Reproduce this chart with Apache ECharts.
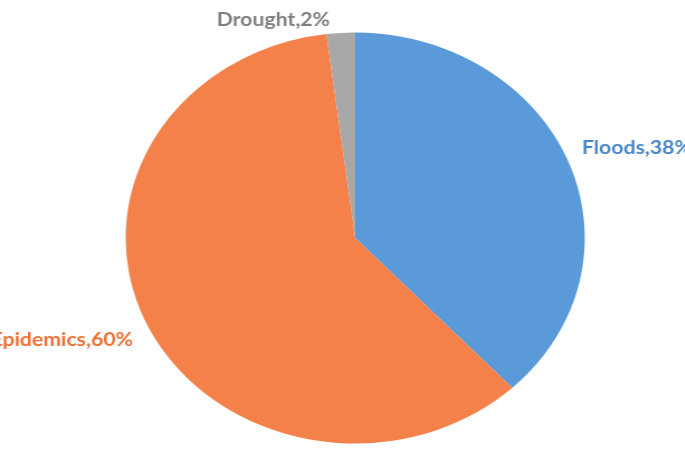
<!DOCTYPE html>
<html>
<head>
<meta charset="utf-8">
<script src="https://cdn.jsdelivr.net/npm/echarts@6/dist/echarts.min.js"></script>
<style>
  html, body { margin: 0; padding: 0; background: #ffffff; overflow: hidden; }
  #wrap { width: 685px; height: 463px; overflow: hidden; position: relative; }
  #chart { width: 613px; height: 463px; transform: scaleX(1.117); transform-origin: 0 0; }
</style>
</head>
<body>
<div id="wrap"><div id="chart"></div></div>
<script>
const categories = ['Floods', 'Epidemics', 'Drought'];
const shares = [38, 60, 2];

const sliceColors = ['#5a9ad9', '#f5814a', '#a8a8a8'];
const labelColors = ['#4a87c9', '#ee7135', '#808080'];
// label anchor positions (chart coordinates, before horizontal stretch)
const labelPos = [
  { x: 521, y: 148, align: 'left' },
  { x: 119, y: 340, align: 'right' },
  { x: 194, y: 20, align: 'left' }
];

const chart = echarts.init(document.getElementById('chart'), null, { renderer: 'canvas' });
chart.setOption({
  backgroundColor: '#ffffff',
  animation: false,
  series: [{
    type: 'pie',
    center: [318, 238],
    radius: 205.5,
    startAngle: 90,
    clockwise: true,
    avoidLabelOverlap: false,
    data: categories.map((c, i) => ({
      name: c,
      value: shares[i],
      itemStyle: { color: sliceColors[i] },
      label: { color: labelColors[i] }
    })),
    itemStyle: { borderWidth: 0 },
    label: {
      show: true,
      position: 'outside',
      formatter: p => p.name + ',' + p.value + '%',
      fontFamily: 'Lato, "Open Sans", sans-serif',
      fontWeight: 'bold',
      fontSize: 19
    },
    labelLine: { show: false },
    labelLayout: function (params) {
      const p = labelPos[params.dataIndex];
      return { x: p.x, y: p.y, align: p.align, verticalAlign: 'middle' };
    },
    emphasis: { disabled: true }
  }]
});
</script>
</body>
</html>
